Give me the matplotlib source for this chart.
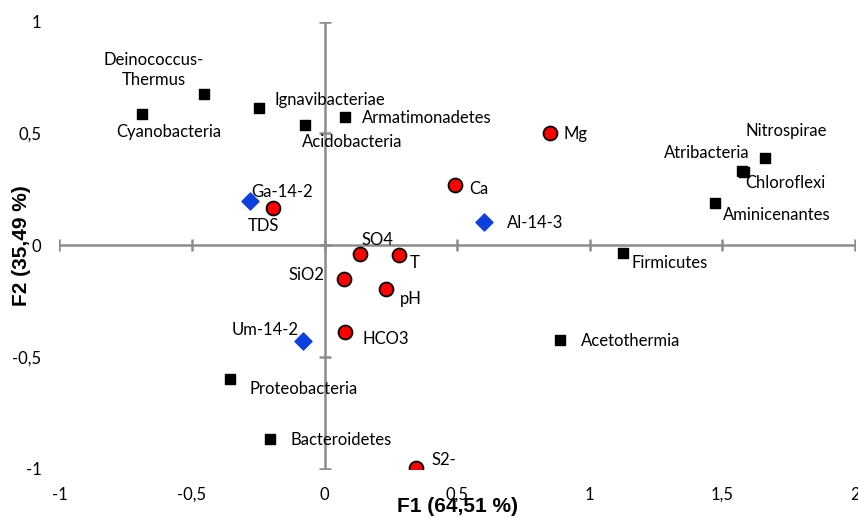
import numpy as np
import matplotlib as mpl
mpl.use("Agg")
import matplotlib.pyplot as plt

mpl.rcParams["font.family"] = ["Lato", "DejaVu Sans"]

# PCA scores: bacterial phyla
phyla = ["Deinococcus-\nThermus", "Cyanobacteria", "Ignavibacteriae", "Acidobacteria",
         "Armatimonadetes", "Nitrospirae", "Atribacteria", "Chloroflexi",
         "Aminicenantes", "Firmicutes", "Acetothermia", "Proteobacteria", "Bacteroidetes"]
phyla_f1 = [-0.455, -0.690, -0.248, -0.075, 0.078, 1.661, 1.575, 1.580,
            1.471, 1.124, 0.889, -0.355, -0.206]
phyla_f2 = [0.677, 0.586, 0.616, 0.537, 0.574, 0.391, 0.332, 0.328,
            0.190, -0.034, -0.423, -0.600, -0.869]

# environmental variables
env = ["Mg", "Ca", "TDS", "SO4", "T", "SiO2", "pH", "HCO3", "S2-"]
env_f1 = [0.849, 0.493, -0.195, 0.132, 0.279, 0.075, 0.233, 0.077, 0.343]
env_f2 = [0.504, 0.268, 0.166, -0.040, -0.046, -0.152, -0.198, -0.388, -0.996]

# sampling sites
sites = ["Ga-14-2", "Al-14-3", "Um-14-2"]
site_f1 = [-0.282, 0.600, -0.082]
site_f2 = [0.197, 0.103, -0.430]

xticks = [-1, -0.5, 0, 0.5, 1, 1.5, 2]
yticks = [-1, -0.5, 0, 0.5, 1]

# label offsets in pixels (dx, dy, horizontal alignment)
phyla_off = [(-50, 24, "center"), (27, -18, "center"), (16, 8, "left"), (-3, -17, "left"),
             (17, -1, "left"), (21, 27, "center"), (7, 18, "right"), (2, -11, "left"),
             (8, -12, "left"), (9, -10, "left"), (21, -1, "left"), (19, -10, "left"),
             (21, -1, "left")]
env_off = [(14, -1, "left"), (14, -4, "left"), (-9, -18, "center"), (18, 14, "center"),
           (16, -8, "center"), (-20, 4, "right"), (24, -10, "center"), (17, -7, "left"),
           (16, 8, "left")]
site_off = [(1, 9, "left"), (23, -1, "left"), (-4, 11, "right")]


def fmt(t):
    # decimal comma, no trailing ",0"
    return ("%g" % t).replace(".", ",")


fig = plt.figure(figsize=(8.58, 5.18), dpi=100)
ax = fig.add_axes([0.0693, 0.0952, 0.9271, 0.8629])
ax.set_xlim(-1, 2)
ax.set_ylim(-1, 1)

for s in ax.spines.values():
    s.set_visible(False)

axis_col = "#8c8c8c"
ax.axhline(0, color=axis_col, lw=1.8, zorder=1)
ax.axvline(0, color=axis_col, lw=1.8, zorder=1)
ax.plot(xticks, np.zeros(len(xticks)), ls="none", marker="|", ms=9, mew=1.8,
        color=axis_col, zorder=1)
ax.plot(np.zeros(len(yticks)), yticks, ls="none", marker="_", ms=9, mew=1.8,
        color=axis_col, zorder=1)

ax.set_xticks(xticks)
ax.set_yticks(yticks)
ax.set_xticklabels([fmt(t) for t in xticks])
ax.set_yticklabels([fmt(t) for t in yticks])
ax.tick_params(length=0, labelsize=12, colors="black", pad=13)
ax.tick_params(axis="x", pad=13)

ax.set_xlabel("F1 (64,51 %)", family="Liberation Sans", fontweight="bold", fontsize=15)
ax.set_ylabel("F2 (35,49 %)", family="Liberation Sans", fontweight="bold", fontsize=15)
ax.xaxis.set_label_coords(0.5, -0.064)
ax.yaxis.set_label_coords(-0.036, 0.5)

ax.scatter(phyla_f1, phyla_f2, marker="s", s=60, color="black", zorder=3)
ax.scatter(env_f1, env_f2, marker="o", s=100, facecolor="#ff0000",
           edgecolor="black", linewidth=1.3, zorder=3)
ax.scatter(site_f1, site_f2, marker="D", s=75, color="#0b3fe0", zorder=3)


def put_labels(names, xs, ys, offs):
    for name, x, y, (dx, dy, ha) in zip(names, xs, ys, offs):
        ax.annotate(name, (x, y), xytext=(dx, dy), textcoords="offset pixels",
                    ha=ha, va="center", fontsize=12, multialignment="center",
                    linespacing=1.35, zorder=4)


put_labels(phyla, phyla_f1, phyla_f2, phyla_off)
put_labels(env, env_f1, env_f2, env_off)
put_labels(sites, site_f1, site_f2, site_off)

fig.savefig("out.png", dpi=100)
